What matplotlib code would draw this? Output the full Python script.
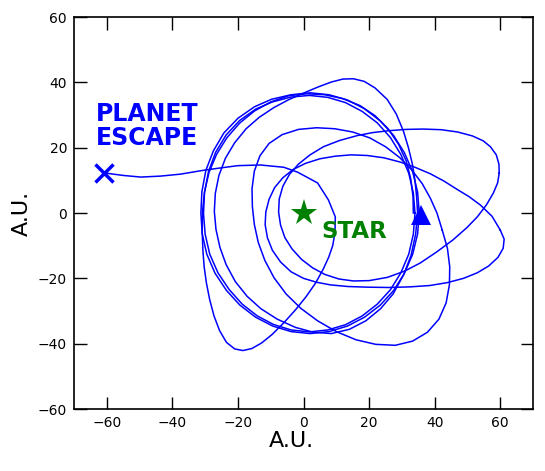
import numpy as np
import matplotlib
matplotlib.use('Agg')
import matplotlib.pyplot as plt

# orbit traces, (x, y) in A.U., counter-clockwise
orbit_a1 = [(35.3, 0), (34.8, 6.4), (33.3, 12.6), (30.8, 18.4), (27.5, 23.7), (23.4, 28.2),
            (18.6, 31.9), (13.4, 34.6), (7.8, 36.2), (2, 36.8), (-3.8, 36.2), (-9.8, 34.8),
            (-15, 32.5), (-20, 29), (-24.3, 24.5), (-27.5, 19), (-29.8, 13), (-31, 6.5),
            (-31.3, 0), (-30.9, -6.4), (-29.5, -12.6), (-27, -18.4), (-23.5, -23.7),
            (-19.4, -28.2), (-14.6, -31.9), (-9.4, -34.6), (-3.8, -36.3), (2, -36.9),
            (7.8, -36.3), (13.4, -34.6), (18.6, -31.9), (23.4, -28.2), (27.5, -23.7),
            (30.8, -18.4), (33.3, -12.6), (34.8, -6.4), (35.3, 0)]
orbit_a2 = [(34, 0), (33.5, 6.1), (32.1, 12.2), (29.7, 17.9), (26.5, 23.1), (22.5, 27.6),
            (17.9, 31.1), (12.8, 33.8), (7.4, 35.4), (1.8, 36), (-3.8, 35.5), (-9.5, 34),
            (-14.6, 31.8), (-19.5, 28.3), (-23.6, 23.9), (-26.8, 18.6), (-29, 12.6), (-30.2, 6.2),
            (-30.5, -0.2), (-30, -6.5), (-28.6, -12.6), (-26.1, -18.3), (-22.7, -23.4),
            (-18.7, -27.9), (-14.1, -31.5), (-9.2, -34.1), (-3.8, -35.8), (1.8, -36.4),
            (7.4, -35.8), (12.8, -34.2), (17.9, -31.5), (22.5, -27.9), (26.5, -23.5),
            (29.7, -18.3), (32.1, -12.6), (33.5, -6.5), (34, 0)]
orbit_b = [(34.8, 0), (34.5, 5), (34, 10), (33.2, 15), (32, 20), (30.5, 25), (28.3, 30.3),
           (25.5, 34.8), (21.8, 38.3), (18.5, 40.3), (15.2, 41.1), (12, 41), (8.5, 40.1),
           (4.5, 38.6), (0, 36.7), (-4.5, 34.7), (-9, 32.3), (-13.5, 29.3), (-17.5, 25.8),
           (-21, 21.5), (-23.8, 16.8), (-25.8, 11.5), (-26.9, 6), (-27.2, 0.5), (-26.7, -5),
           (-25.5, -10.5), (-23.6, -15.8), (-20.8, -21), (-17.2, -25.5), (-13, -29.3),
           (-8, -32.5), (-2.5, -35), (3, -36.5), (8.5, -36.9), (14, -35.6), (19, -33),
           (23.5, -29.3), (27.3, -24.8), (30.5, -19), (32.8, -13), (34.2, -6.5), (34.8, 0)]
orbit_c = [(42.3, -5.2), (40.7, 0), (38.7, 4.5), (36.2, 9), (33, 13.2), (29.3, 17), (25, 20.3),
           (20.2, 23), (15, 24.8), (9.5, 25.8), (4, 26.1), (-1.5, 25.6), (-6.5, 24),
           (-10.5, 21.3), (-13.3, 17.5), (-15, 12.8), (-15.7, 7.5), (-15.6, 2), (-15, -3.5),
           (-13.8, -9), (-11.8, -14.5), (-9, -19.8), (-5.3, -24.8), (-0.8, -29.2), (4.3, -33),
           (10, -36.3), (16, -38.8), (22, -40.2), (28, -40.5), (33.3, -39.2), (37.8, -36.5),
           (41.3, -32.5), (43.5, -27.5), (44.5, -22), (44.6, -16.5), (43.9, -10.8), (42.3, -5.2)]
orbit_p = [(60, -5.2), (57.5, -1), (54, 2.4), (50.5, 5), (46.9, 7.2), (42.8, 9.8), (38.7, 12),
           (34, 14), (29.5, 15.6), (24.5, 16.9), (19.5, 17.6), (14.5, 17.8), (9.7, 17.4),
           (5, 16.6), (0.6, 15.2), (-3.2, 13.3), (-6.3, 10.8), (-8.8, 7.8), (-10.5, 4.2),
           (-11.5, 0.3), (-11.7, -3.6), (-11, -7.6), (-9.5, -11.4), (-7, -15), (-3.8, -18),
           (0, -20), (4, -21.2), (8.2, -22), (13.5, -22.5), (19.5, -22.7), (26, -22.8),
           (32.6, -22.6), (38.5, -22.2), (43.9, -21.3), (48.8, -20), (53, -18.3), (56.5, -16.2),
           (59.3, -13.6), (60.9, -10.8), (61.2, -8), (60, -5.2)]
orbit_q = [(59.7, 12.2), (59.6, 15), (58.8, 17.8), (57, 20.3), (54.8, 22.1), (51.5, 23.6),
           (47, 24.8), (42, 25.5), (36.5, 25.7), (31.5, 25.6), (26, 25.2), (21, 24.6),
           (16.4, 23.7), (11, 22.2), (6.1, 20.3), (2, 17.8), (-1.5, 15), (-4.3, 11.8),
           (-6.3, 8.2), (-7.4, 4.3), (-7.6, 0.3), (-7, -3.7), (-5.7, -7.5), (-3.5, -11),
           (-0.6, -14.2), (2.8, -16.8), (6.5, -18.8), (10.8, -20.2), (15.2, -20.8), (20, -20.7),
           (25.6, -19.7), (30.8, -17.8), (35.6, -15.3), (40.5, -12), (45.5, -8.3), (49.8, -4.5),
           (53, -1.2), (55.8, 2.5), (57.9, 6.1), (59.2, 9.2), (59.7, 12.2)]
# last orbit, close pass by the star (coarse steps) and the escape
orbit_escape = [(33.5, 0), (33.4, 5), (32.7, 10.5), (31.3, 16), (29, 21), (25.8, 25.8),
                (21.8, 29.8), (17.2, 32.9), (12, 35), (6.5, 36.2), (1, 36.5), (-4.5, 35.9),
                (-10, 34), (-15, 31.2), (-19.5, 27.5), (-23.4, 23), (-26.5, 18), (-28.8, 12.5),
                (-30.2, 6.5), (-30.8, 0.5), (-30.9, -5.5), (-30.7, -11.3), (-30.3, -16.5),
                (-29.6, -21.5), (-28.6, -26.6), (-27.3, -31.5), (-25.6, -36), (-23.5, -39.6),
                (-21, -41.6), (-18.5, -42.1), (-15.8, -41.5), (-12.8, -39.8), (-9.6, -37.2),
                (-6, -33.6), (-2.5, -29.7), (0.8, -25.6), (3.7, -21.4), (6, -17.2), (7.7, -13.5),
                (8.9, -10), (9.6, -6), (9.7, -1.2), (7.6, 4), (4.3, 9.2), (-1.8, 12.5),
                (-6, 14), (-13.1, 14.7), (-20, 14.5), (-25.3, 13.8), (-31, 13), (-37.5, 11.9),
                (-43.6, 11.3), (-49.6, 11), (-55, 11.5), (-61, 12.3)]

orbits = [orbit_a1, orbit_a2, orbit_b, orbit_c, orbit_p, orbit_q, orbit_escape]

star_pos = (0, 0)
start_pos = (35.9, -0.6)
end_pos = (-61, 12.3)


def plot_trajectory(orbits, savingpath='out.png'):
    """
    Plots the planet trajectory around the star with start, star and escape markers.
    """
    fig = plt.figure(figsize=(5.45, 4.71), dpi=100)
    ax = fig.add_axes([0.1358, 0.1316, 0.978 - 0.1358, 0.9639 - 0.1316])

    for orbit in orbits:
        xy = np.array(orbit)
        ax.plot(xy[:, 0], xy[:, 1], color='b', linewidth=1.1)

    ax.plot(*star_pos, marker='*', color='g', markersize=20, markeredgewidth=0)
    ax.plot(*start_pos, marker='^', color='b', markersize=14, markeredgewidth=0)
    ax.plot(*end_pos, marker='x', color='b', markersize=13, markeredgewidth=2.5)

    ax.text(-63.4, 26.5, 'PLANET\nESCAPE', color='b', fontsize=17, fontweight='bold',
            ha='left', va='center', linespacing=1.0)
    ax.text(5.3, -5.7, 'STAR', color='g', fontsize=16.5, fontweight='bold',
            ha='left', va='center')

    ax.set_xlim(-70, 70)
    ax.set_ylim(-60, 60)
    ax.set_xticks(np.arange(-60, 61, 20))
    ax.set_yticks(np.arange(-60, 61, 20))
    ax.tick_params(direction='in', top=True, right=True, length=9, width=1,
                   labelsize=10, pad=5)
    for spine in ax.spines.values():
        spine.set_linewidth(1.2)
    ax.set_xlabel('A.U.', fontsize=16)
    ax.set_ylabel('A.U.', fontsize=16)
    ax.xaxis.set_label_coords(0.474, -0.055)

    plt.savefig(savingpath, dpi=100)
    return fig


plot_trajectory(orbits)
